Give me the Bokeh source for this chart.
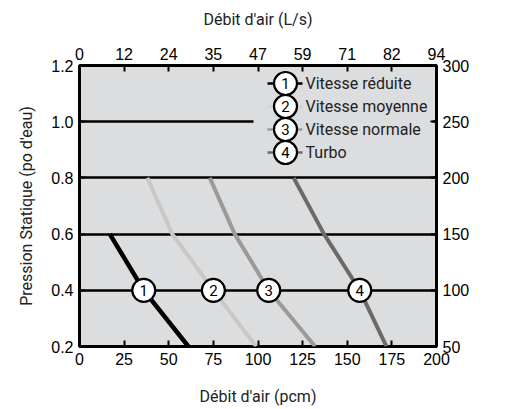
import math
from bokeh.plotting import figure
from bokeh.models import (LinearAxis, Range1d, FixedTicker, Label, NumeralTickFormatter)
from bokeh.core.properties import value
from bokeh.embed import file_html
from bokeh.resources import INLINE

# ---- data ----
pcm_ticks = [0, 25, 50, 75, 100, 125, 150, 175, 200]
ls_labels = ["0", "12", "24", "35", "47", "59", "71", "82", "94"]
po_ticks = [0.2, 0.4, 0.6, 0.8, 1.0, 1.2]
pa_ticks = [50, 100, 150, 200, 250, 300]

series_names = ["Vitesse réduite", "Vitesse moyenne", "Vitesse normale", "Turbo"]
series_nums = ["1", "2", "3", "4"]

s1_pcm = [17, 36, 61]
s1_po = [0.6, 0.4, 0.2]
s2_pcm = [38, 52, 75, 99]
s2_po = [0.8, 0.6, 0.4, 0.2]
s3_pcm = [73, 87, 106, 132]
s3_po = [0.8, 0.6, 0.4, 0.2]
s4_pcm = [120, 137, 157, 172]
s4_po = [0.8, 0.6, 0.4, 0.2]

marker_pcm = [36, 75, 106, 157]
marker_po = [0.4, 0.4, 0.4, 0.4]

# ---- style / layout ----
BG = "#dcdddf"
colors = ["#000000", "#c8c8c8", "#9a9a9a", "#6a6a6a"]
legend_colors = ["#000000", "#d2d2d2", "#9a9a9a", "#6a6a6a"]
widths = [4.5, 4, 4, 4]
TICK_FONT = "Liberation Sans"
TITLE_FONT = "Roboto"
X0, X1 = 0, 200
Y0, Y1 = 0.2, 1.2
W, H = 512, 409
BL, BR, BT, BB = 79, 76, 65, 63
FW, FH = W - BL - BR, H - BT - BB


def px_x(px):
    """frame pixel (from left) -> data x"""
    return X0 + px * (X1 - X0) / FW


def px_y(py):
    """frame pixel (from top) -> data y"""
    return Y1 - py * (Y1 - Y0) / FH


p = figure(width=W, height=H,
           x_range=Range1d(X0, X1), y_range=Range1d(Y0, Y1),
           output_backend="svg", toolbar_location=None,
           min_border_left=BL, min_border_right=BR,
           min_border_top=BT, min_border_bottom=BB,
           background_fill_color=BG, border_fill_color="white",
           outline_line_color="black", outline_line_width=3)

p.extra_y_ranges = {"pa": Range1d(50, 300)}

bottom = p.below[0]
left = p.left[0]
bottom.ticker = FixedTicker(ticks=pcm_ticks)
left.ticker = FixedTicker(ticks=po_ticks)
left.formatter = NumeralTickFormatter(format="0.0")
bottom.axis_label = "Débit d'air (pcm)"
left.axis_label = "Pression Statique (po d'eau)"

top = LinearAxis(ticker=FixedTicker(ticks=pcm_ticks),
                 major_label_overrides={t: l for t, l in zip(pcm_ticks, ls_labels)},
                 axis_label="Débit d'air (L/s)")
p.add_layout(top, "above")
right = LinearAxis(y_range_name="pa", ticker=FixedTicker(ticks=pa_ticks))
p.add_layout(right, "right")

for ax in [top, bottom, left, right]:
    ax.axis_line_color = None
    ax.major_tick_in = 6
    ax.major_tick_out = 0
    ax.major_tick_line_color = "black"
    ax.major_tick_line_width = 2
    ax.minor_tick_line_color = None
    ax.major_label_text_font = TICK_FONT
    ax.major_label_text_font_size = "16px"
    ax.major_label_text_color = "black"
    ax.major_label_standoff = 6
    ax.axis_label_text_font = TITLE_FONT
    ax.axis_label_text_font_size = "16px"
    ax.axis_label_text_font_style = "normal"
    ax.axis_label_text_color = "#222222"

left.axis_label_standoff = 12
top.axis_label_standoff = 16
bottom.axis_label_standoff = 19

# right axis title, reading bottom-to-top like the left one
RIGHT_TITLE_PX = 423
p.add_layout(Label(x=px_x(RIGHT_TITLE_PX), y=(Y0 + Y1) / 2,
                   text="Pression Statique (PA)", angle=math.pi / 2,
                   text_align="center", text_baseline="middle",
                   text_font=TITLE_FONT, text_font_size="16px", text_color="#222222"))

p.xgrid.visible = False
p.ygrid.ticker = FixedTicker(ticks=po_ticks)
p.ygrid.grid_line_color = "black"
p.ygrid.grid_line_width = 2.5

# ---- series ----
xs = [s1_pcm, s2_pcm, s3_pcm, s4_pcm]
ys = [s1_po, s2_po, s3_po, s4_po]
for x, y, c, w in zip(xs, ys, colors, widths):
    p.line(x, y, line_color=c, line_width=w)

# ---- legend (drawn with glyphs, layout in frame pixels) ----
LEG_BOX = (174, 353, 7, 100)      # left, right, top, bottom
ROW0, ROW_STEP = 18, 23
STUB_X0, STUB_X1 = 188, 223
CIRCLE_X = 206
TEXT_X = 226
n = len(series_names)
row_y = [px_y(ROW0 + i * ROW_STEP) for i in range(n)]

p.quad(left=px_x(LEG_BOX[0]), right=px_x(LEG_BOX[1]),
       top=px_y(LEG_BOX[2]), bottom=px_y(LEG_BOX[3]),
       fill_color=BG, line_color=None)
p.segment(x0=[px_x(STUB_X0)] * n, x1=[px_x(STUB_X1)] * n, y0=row_y, y1=row_y,
          line_color=legend_colors, line_width=2.5)

all_x = marker_pcm + [px_x(CIRCLE_X)] * n
all_y = marker_po + row_y
all_t = series_nums + series_nums
p.scatter(all_x, all_y, size=23, marker="circle",
          fill_color="white", line_color="black", line_width=2.2)
p.text(all_x, all_y, text=all_t, text_align="center",
       text_baseline="middle", text_font=value(TITLE_FONT),
       text_font_size="15px", text_color="black")
p.text([px_x(TEXT_X)] * n, row_y, text=series_names, text_align="left",
       text_baseline="middle", text_font=value(TITLE_FONT),
       text_font_size="16px", text_color="#222222")

open("out.html", "w").write(file_html(p, INLINE))
